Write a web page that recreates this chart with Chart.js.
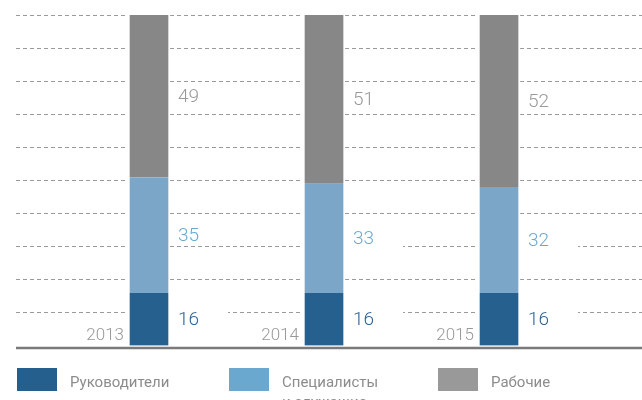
<!DOCTYPE html>
<html>
<head>
<meta charset="utf-8">
<script src="https://cdn.jsdelivr.net/npm/chart.js"></script>
<style>
  html, body { margin: 0; padding: 0; background: #fff; }
  #wrap { position: relative; width: 642px; height: 400px; overflow: hidden; }
  #legend { position: absolute; left: 0; top: 368px; width: 642px; font-family: Roboto, "Noto Sans", sans-serif; font-size: 15px; color: #8c8c8c; }
  .item { position: absolute; top: 0; }
  .box { position: absolute; left: 0; top: 0; width: 40px; height: 23px; }
  .txt { position: absolute; left: 53px; top: 4px; line-height: 20px; white-space: nowrap; }
</style>
</head>
<body>
<div id="wrap">
  <canvas id="my-chart" width="642" height="400"></canvas>
  <div id="legend"></div>
</div>
<script>
const years = ['2013', '2014', '2015'];
const managers = [16, 16, 16];
const specialists = [35, 33, 32];
const workers = [49, 51, 52];
const seriesNames = ['Руководители', 'Специалисты\nи служащие', 'Рабочие'];
const barColors = ['#25608f', '#7ba6c8', '#878787'];
const legendColors = ['#245f8e', '#6aa8d0', '#999999'];
const labelColors = ['#2f6496', '#6aa8d0', '#999999'];

const toPoints = (arr) => arr.map((v, i) => ({ x: i, y: v }));

// labels next to each bar segment, years at the bottom left of each bar, baseline
const extras = {
    id: 'extras',
    afterDatasetsDraw(chart) {
        const ctx = chart.ctx;
        const area = chart.chartArea;
        ctx.save();
        chart.data.datasets.forEach((ds, di) => {
            const meta = chart.getDatasetMeta(di);
            meta.data.forEach((bar, i) => {
                const right = bar.x + bar.width / 2;
                const cy = (bar.y + bar.base) / 2;
                ctx.fillStyle = '#fff';
                ctx.fillRect(right, cy - 9, 58, 18);
                ctx.fillStyle = labelColors[di];
                ctx.font = '300 19px Roboto, "Noto Sans", sans-serif';
                ctx.textAlign = 'left';
                ctx.textBaseline = 'middle';
                ctx.fillText(ds.data[i].y, right + 8, cy + 1);
                if (di === 0) {
                    const left = bar.x - bar.width / 2;
                    ctx.fillStyle = '#999999';
                    ctx.font = '300 17px Roboto, "Noto Sans", sans-serif';
                    ctx.textAlign = 'right';
                    ctx.textBaseline = 'alphabetic';
                    ctx.fillText(years[i], left - 4, area.bottom - 6);
                }
            });
        });
        ctx.strokeStyle = '#7a7a7a';
        ctx.lineWidth = 2.5;
        ctx.beginPath();
        ctx.moveTo(area.left, area.bottom + 2);
        ctx.lineTo(area.right, area.bottom + 2);
        ctx.stroke();
        ctx.restore();
    }
};

const ctx = document.getElementById('my-chart').getContext('2d');
const myChart = new Chart(ctx, {
    type: 'bar',
    data: {
        datasets: [managers, specialists, workers].map((arr, di) => ({
            label: seriesNames[di],
            data: toPoints(arr),
            backgroundColor: barColors[di],
            borderColor: '#ffffff',
            borderWidth: { left: 2, right: 2, top: 0, bottom: 0 },
            borderSkipped: false,
            barThickness: 42
        }))
    },
    options: {
        responsive: false,
        animation: false,
        layout: { padding: { left: 16, top: 15, right: 0, bottom: 54 } },
        plugins: { legend: { display: false }, tooltip: { enabled: false } },
        scales: {
            x: {
                type: 'linear',
                stacked: true,
                display: false,
                bounds: 'data',
                offset: false,
                min: -0.76,
                max: 2.817
            },
            y: {
                stacked: true,
                min: 0,
                max: 100,
                ticks: { display: false, stepSize: 10 },
                border: { display: false, dash: [4, 3] },
                grid: {
                    color: (c) => c.tick.value === 0 ? 'rgba(0,0,0,0)' : '#9a9a9a',
                    lineWidth: 1,
                    drawTicks: false
                },
                afterFit(scale) { scale.width = 0; }
            }
        }
    },
    plugins: [extras]
});

// html legend built from the series names
const legendLeft = [17, 229, 438];
const legend = document.getElementById('legend');
seriesNames.forEach((name, i) => {
    const item = document.createElement('div');
    item.className = 'item';
    item.style.left = legendLeft[i] + 'px';
    item.innerHTML = '<div class="box" style="background:' + legendColors[i] + '"></div>' +
        '<div class="txt">' + name.replace('\n', '<br>') + '</div>';
    legend.appendChild(item);
});
</script>
</body>
</html>
